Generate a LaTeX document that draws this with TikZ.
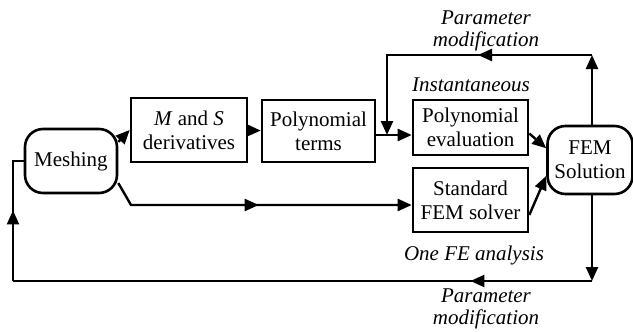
\documentclass[tikz,border=0pt]{standalone}
\usepackage{fontspec}
\setmainfont{Liberation Serif}
\usetikzlibrary{arrows.meta,positioning,decorations.markings}

\begin{document}
\begin{tikzpicture}[
		x=0.5pt, y=-0.5pt,
		every node/.style={font=\fontsize{10.5}{12}\selectfont},
		proc/.style={draw, line width=1.3pt, align=center, inner sep=1pt},
		rproc/.style={proc, rounded corners=9pt},
		lbl/.style={align=center, font=\fontsize{10.5}{11}\selectfont\itshape},
		line/.style={line width=1.2pt},
		barrow/.style={-{Triangle[length=7pt,width=6pt]}, line width=1.2pt},
		midarrow/.style={postaction=decorate, decoration={markings, mark=at position #1 with {\arrow{Triangle[length=7pt,width=6pt]}}}}
	]
		\useasboundingbox (0,0) rectangle (633,332);

		\node[rproc, minimum width=46pt, minimum height=32pt]
			(mesh) at (71,161)
			{Meshing};
		\node[proc, minimum width=58pt, minimum height=32pt]
			(ms) at (189,130)
			{\textit{M} and \textit{S}\\derivatives};
		\node[proc, minimum width=56.5pt, minimum height=31pt]
			(terms) at (318.5,131)
			{Polynomial\\terms};
		\node[proc, minimum width=57.5pt, minimum height=27.5pt]
			(eval) at (470.5,127.5)
			{Polynomial\\evaluation};
		\node[proc, minimum width=57.5pt, minimum height=32pt]
			(solver) at (470.5,200)
			{Standard\\FEM solver};
		\node[rproc, minimum width=42.5pt, minimum height=34pt]
			(fem) at (590,160)
			{FEM\\Solution};

		\coordinate (tr) at (592,55);
		\coordinate (br) at (592,281);
		\coordinate (bl) at (13,281);
		\coordinate (jn) at (387,135);
		\coordinate (lk) at (131,205);

		\draw[barrow] (mesh.22) -- (ms.west);
		\draw[barrow] (ms) -- (terms);
		\draw[barrow] (terms.east |- jn) -- (eval.west |- jn);
		\draw[barrow, midarrow=0.5] (mesh.-25) -- (lk) -- (lk -| solver.west);
		\draw[barrow] ([yshift=-3pt]eval.east) -- (fem.165);
		\draw[barrow] ([yshift=-7.5pt]solver.east) -- (fem.-160);

		% feedback loops
		\draw[barrow] (fem.north -| tr) -- (tr);
		\draw[barrow, midarrow=0.4] (tr) -| (jn);
		\draw[barrow] (fem.south -| tr) -- (br);
		\draw[line, midarrow=0.21] (br) -- (bl);
		\draw[line, midarrow=0.54] (bl) |- (mesh.west);

		\node[lbl] (pm1) at (486,31) {Parameter\\modification};
		\node[lbl] (inst) at (471,85) {Instantaneous};
		\node[lbl] (onefe) at (474,255) {One FE analysis};
		\node[lbl] (pm2) at (486,309) {Parameter\\modification};
	\end{tikzpicture}
\end{document}
